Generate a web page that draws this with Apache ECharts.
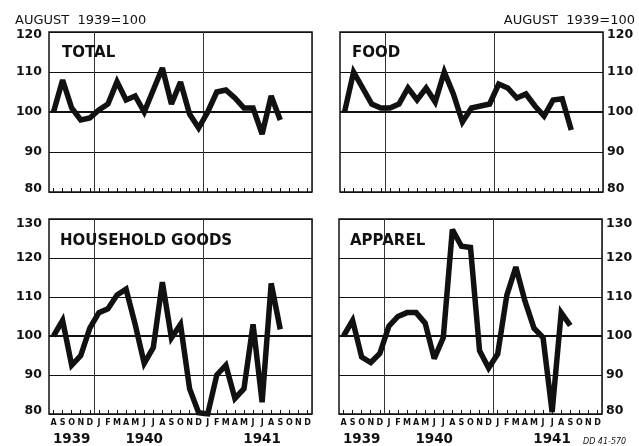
<!DOCTYPE html>
<html>
<head>
<meta charset="utf-8">
<script src="https://cdn.jsdelivr.net/npm/echarts@6/dist/echarts.min.js"></script>
<style>
  html, body { margin: 0; padding: 0; background: #ffffff; }
  #chart { width: 639px; height: 446px; }
</style>
</head>
<body>
<div id="chart"></div>
<script>
// ---- data ----
const months = ['A','S','O','N','D','J','F','M','A','M','J','J','A','S','O','N','D','J','F','M','A','M','J','J','A','S','O','N','D'];
const yearLabels = ['1939', '1940', '1941'];
const yearLabelMonthIndex = [2, 10, 23];
const panelTitles = ['TOTAL', 'FOOD', 'HOUSEHOLD GOODS', 'APPAREL'];
const baseNote = 'AUGUST  1939=100';
const sourceNote = 'DD 41-570';

const total = [100, 108, 101, 98, 98.5, 100.5, 102, 107.6, 103, 104, 100, 105.5, 111, 102, 107.5, 99.5, 96, 100, 105, 105.5, 103.5, 101, 101, 94.5, 104, 98];
const food = [100, 110, 106, 102, 101, 101, 102, 106, 103, 106, 102.5, 110, 104.5, 97.5, 101, 101.5, 102, 107, 106, 103.5, 104.5, 101.5, 99, 103, 103.3, 95.5];
const household = [100, 104, 92.5, 95, 102, 106, 107, 110.5, 112, 103, 93, 97, 113.8, 99.5, 103, 86.5, 80.3, 80, 90, 92.5, 84, 86.5, 103, 83, 113.5, 101.7];
const apparel = [100, 104, 94.6, 93.2, 95.5, 102.5, 105, 106, 106, 103.3, 94.2, 99.6, 127.3, 123, 122.7, 96.2, 91.8, 95.4, 110.4, 117.7, 109, 102, 99.6, 80.5, 106, 102.7];

const yMinTop = 80, yMaxTop = 120;
const yMinBottom = 80, yMaxBottom = 130;
const yStep = 10;
const baseValue = 100;

// ---- chart ----
const FONT = 'DejaVu Sans';
const INK = '#111111';
const seriesData = [total, food, household, apparel];

// year boundaries: index where a January follows a December
const yearStarts = [];
months.forEach((m, i) => { if (i > 0 && m === 'J' && months[i - 1] === 'D') yearStarts.push(i); });
const yearAt = {};
yearLabelMonthIndex.forEach((idx, k) => { yearAt[idx] = yearLabels[k]; });

const grids = [
  { left: 49, top: 32, width: 263, height: 160 },
  { left: 340, top: 32, width: 263, height: 160 },
  { left: 49, top: 219, width: 263, height: 200 },
  { left: 339, top: 219, width: 263, height: 200 }
].map(g => Object.assign({ show: true, borderColor: INK, borderWidth: 1.5, backgroundColor: 'transparent', containLabel: false }, g));

const xAxes = [];
const yAxes = [];
const series = [];
const yLabelStyle = { fontSize: 12.5, fontWeight: 'bold', fontFamily: FONT, color: INK };
for (let i = 0; i < 4; i++) {
  const bottom = i >= 2;
  const isLeft = i % 2 === 0;
  const yMin = bottom ? yMinBottom : yMinTop;
  const yMax = bottom ? yMaxBottom : yMaxTop;
  xAxes.push({
    type: 'category', gridIndex: i, data: months, boundaryGap: true,
    axisLine: { show: false },
    axisTick: { show: true, inside: true, length: 4, alignWithLabel: true, interval: 0, lineStyle: { color: INK, width: 1 } },
    axisLabel: { show: bottom, interval: 0, fontSize: 8, fontWeight: 'bold', fontFamily: FONT, color: INK, margin: 5 },
    splitLine: { show: true, interval: (idx) => yearStarts.indexOf(idx) >= 0, lineStyle: { color: '#333', width: 1 } }
  });
  yAxes.push({
    type: 'value', gridIndex: i, min: yMin, max: yMax, interval: yStep,
    position: isLeft ? 'left' : 'right',
    axisLine: { show: false }, axisTick: { show: false },
    splitLine: { show: true, lineStyle: { color: INK, width: 1 } },
    axisLabel: Object.assign({}, yLabelStyle, {
      margin: isLeft ? 7 : 4,
      formatter: (v) => v === yMax ? '{hi|' + v + '}' : (v === yMin ? '{lo|' + v + '}' : '{md|' + v + '}'),
      rich: {
        hi: Object.assign({}, yLabelStyle, { padding: [bottom ? 9 : 6, 0, 0, 0] }),
        lo: Object.assign({}, yLabelStyle, { padding: [0, 0, 6, 0] }),
        md: Object.assign({}, yLabelStyle)
      }
    })
  });
  series.push({
    type: 'line', xAxisIndex: i, yAxisIndex: i, data: seriesData[i],
    symbol: 'none', smooth: false,
    lineStyle: { color: INK, width: 5.5, join: 'miter', miterLimit: 3, cap: 'butt' },
    markLine: {
      silent: true, symbol: 'none', label: { show: false }, animation: false,
      lineStyle: { color: INK, width: 2, type: 'solid' },
      data: [{ yAxis: baseValue }]
    },
    animation: false
  });
}
// year label axes on bottom panels
for (let i = 2; i < 4; i++) {
  xAxes.push({
    type: 'category', gridIndex: i, data: months, boundaryGap: true, position: 'bottom',
    axisLine: { show: false }, axisTick: { show: false }, splitLine: { show: false },
    axisLabel: { interval: 0, fontSize: 13.5, fontWeight: 'bold', fontFamily: FONT, color: INK, margin: 18,
      formatter: (v, idx) => yearAt[idx] || '' }
  });
}

const titleBase = { padding: 0, textStyle: { fontFamily: FONT, fontWeight: 'bold', fontSize: 15, color: INK } };
const titles = [
  Object.assign({}, titleBase, { text: panelTitles[0], left: 62, top: 46 }),
  Object.assign({}, titleBase, { text: panelTitles[1], left: 352, top: 46 }),
  Object.assign({}, titleBase, { text: panelTitles[2], left: 60, top: 234 }),
  Object.assign({}, titleBase, { text: panelTitles[3], left: 350, top: 234 }),
  { text: baseNote, left: 15, top: 14, padding: 0, textStyle: { fontFamily: FONT, fontWeight: 'normal', fontSize: 13, color: INK } },
  { text: baseNote, right: 4, top: 14, padding: 0, textStyle: { fontFamily: FONT, fontWeight: 'normal', fontSize: 13, color: INK } },
  { text: sourceNote, left: 583, top: 438, padding: 0, textStyle: { fontFamily: FONT, fontWeight: 'normal', fontStyle: 'italic', fontSize: 8, color: INK } }
];

const chart = echarts.init(document.getElementById('chart'), null, { renderer: 'canvas' });
chart.setOption({
  backgroundColor: '#ffffff',
  animation: false,
  title: titles,
  grid: grids,
  xAxis: xAxes,
  yAxis: yAxes,
  series: series
});
</script>
</body>
</html>
